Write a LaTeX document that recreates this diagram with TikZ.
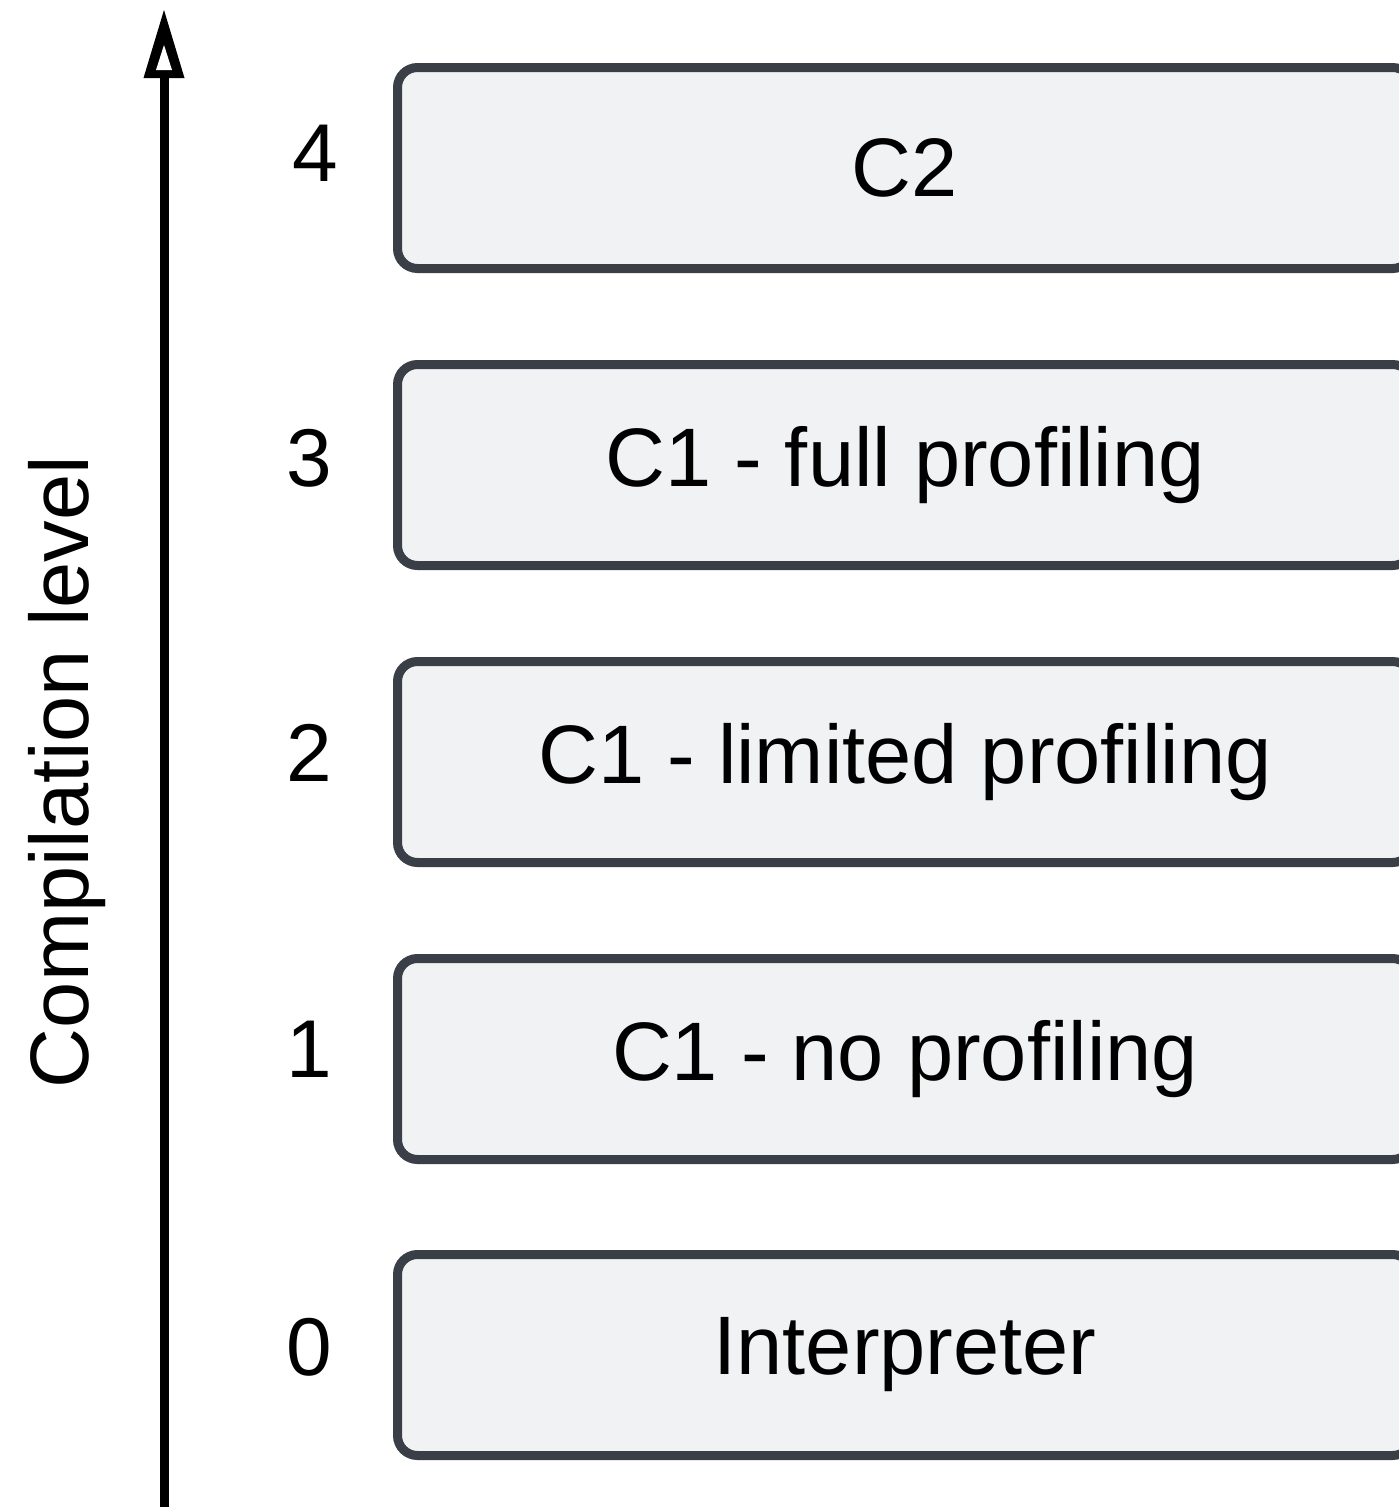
\documentclass[tikz,border=0pt]{standalone}
\usepackage{fontspec}
\setmainfont{Liberation Sans}
\definecolor{boxline}{HTML}{3A3E46}
\definecolor{boxfill}{HTML}{F1F2F4}
\tikzset{
  levelbox/.style={draw=boxline, fill=boxfill, line width=9pt, rounded corners=20pt,
    rectangle, minimum width=1015pt, minimum height=201pt, inner sep=0pt},
  boxtext/.style={inner sep=0pt, font=\fontsize{83}{99}\selectfont},
  leveltext/.style={inner sep=0pt, anchor=base, font=\fontsize{82}{98}\selectfont},
}
\begin{document}
\begin{tikzpicture}[x=1pt, y=-1pt]
  \clip (0,0) rectangle (1399,1507);
  \fill[white] (0,0) rectangle (1399,1507);

  % vertical axis with an open triangular head
  \coordinate (axisbot) at (164,1515);
  \coordinate (axistop) at (164,78);
  \draw[line width=9pt] (axisbot) -- (axistop);
  \fill[black] (164,10) -- (184.5,78) -- (143.5,78) -- cycle;
  \fill[white] (164,45) -- (172,70) -- (156,70) -- cycle;

  \node[rotate=90, anchor=base, inner sep=0pt, font=\fontsize{83}{99}\selectfont]
    (axislabel) at (88,772) {Compilation level};

  % one box per compilation level
  \node[levelbox] (b4) at (905,168) {};
  \node[levelbox] (b3) at (905,465) {};
  \node[levelbox] (b2) at (905,762) {};
  \node[levelbox] (b1) at (905,1059) {};
  \node[levelbox] (b0) at (905,1355) {};

  \node[boxtext] (t4) at (b4.center) {C2};
  \node[boxtext] (t3) at (b3.center) {C1 - full profiling};
  \node[boxtext] (t2) at (b2.center) {C1 - limited profiling};
  \node[boxtext] (t1) at (b1.center) {C1 - no profiling};
  \node[boxtext] (t0) at (b0.center) {Interpreter};

  \node[leveltext] (n4) at (315,181) {4};
  \node[leveltext] (n3) at (309.5,486) {3};
  \node[leveltext] (n2) at (309.5,781) {2};
  \node[leveltext] (n1) at (309.5,1077) {1};
  \node[leveltext] (n0) at (309.5,1375) {0};
\end{tikzpicture}
\end{document}
